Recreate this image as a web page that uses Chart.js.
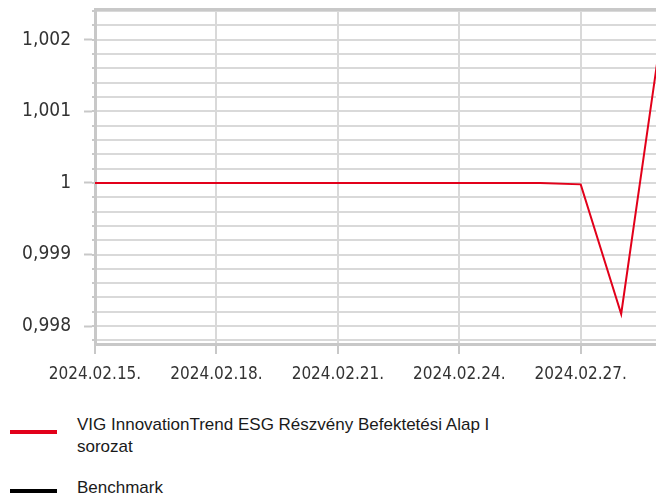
<!DOCTYPE html>
<html>
<head>
<meta charset="utf-8">
<script src="https://cdn.jsdelivr.net/npm/chart.js@4"></script>
<style>
  html, body { margin: 0; padding: 0; background: #fff; width: 656px; height: 497px; overflow: hidden; }
  #wrap { position: relative; width: 656px; height: 497px; }
  #chartBox { position: absolute; left: 0; top: 0; width: 656px; height: 400px; }
  .leg-line { position: absolute; left: 10px; width: 47px; height: 4px; }
  .leg-text { position: absolute; left: 77px; width: 440px; font: 17px "Liberation Sans", Arial, sans-serif; line-height: 22px; color: #1a1a1a; }
</style>
</head>
<body>
<div id="wrap">
  <div id="chartBox"><canvas id="navChart"></canvas></div>
  <div class="leg-line" style="top:430px;background:#e2001a"></div>
  <div class="leg-text" style="top:414px">VIG InnovationTrend ESG Részvény Befektetési Alap I sorozat</div>
  <div class="leg-line" style="top:489px;background:#000"></div>
  <div class="leg-text" style="top:477px">Benchmark</div>
</div>
<script>
// ── Data ───────────────────────────────────────────────
const dates = [
  '2024.02.15.', '2024.02.16.', '2024.02.17.', '2024.02.18.', '2024.02.19.',
  '2024.02.20.', '2024.02.21.', '2024.02.22.', '2024.02.23.', '2024.02.24.',
  '2024.02.25.', '2024.02.26.', '2024.02.27.', '2024.02.28.', '2024.02.29.'
];
const fundValues = [
  1, 1, 1, 1, 1,
  1, 1, 1, 1, 1,
  1, 1, 0.99998, 0.99817, 1.00212
];
const benchmarkValues = [];

const yMin = 0.99775, yMax = 1.00243;
const xMax = 13.86;   // the chart is cut off just before 02.29

const fmtHu = v => Number(v.toFixed(3)).toString().replace('.', ',');

const gridGrey = '#d9d9d9';
const axisGrey = '#c8c8c8';

// keep the plot area fixed: no automatic padding for edge labels
const noPad = s => { s.paddingTop = 0; s.paddingBottom = 0; s.paddingLeft = 0; s.paddingRight = 0; };

const ctx = document.getElementById('navChart').getContext('2d');
new Chart(ctx, {
  type: 'line',
  data: {
    datasets: [
      {
        label: 'VIG InnovationTrend ESG Részvény Befektetési Alap I sorozat',
        data: fundValues.map((v, i) => ({ x: i, y: v })),
        borderColor: '#e2001a',
        borderWidth: 2,
        pointRadius: 0,
        tension: 0,
        yAxisID: 'y'
      },
      {
        label: 'Benchmark',
        data: benchmarkValues.map((v, i) => ({ x: i, y: v })),
        borderColor: '#000',
        borderWidth: 2,
        pointRadius: 0,
        yAxisID: 'y'
      }
    ]
  },
  options: {
    responsive: true,
    maintainAspectRatio: false,
    animation: false,
    layout: { padding: { top: 9, left: 0, right: 0, bottom: 0 } },
    plugins: { legend: { display: false }, tooltip: { enabled: false } },
    scales: {
      x: {
        type: 'linear',
        min: 0,
        max: xMax,
        afterFit: s => { s.height = 56; noPad(s); },
        ticks: {
          stepSize: 3,
          includeBounds: false,
          padding: 10,
          color: '#333',
          font: { family: 'DejaVu Sans Condensed', size: 17 },
          maxRotation: 0,
          callback: v => dates[v] ?? ''
        },
        grid: { color: gridGrey, lineWidth: 2, tickLength: 10, tickColor: axisGrey, tickWidth: 2 },
        border: { color: axisGrey, width: 3 }
      },
      xTop: {
        type: 'linear',
        position: 'top',
        afterFit: s => { s.height = 0; noPad(s); },
        ticks: { display: false },
        grid: { display: false },
        border: { display: true, color: axisGrey, width: 3 }
      },
      // minor grid every 0.0002, short tick marks
      y: {
        type: 'linear',
        position: 'left',
        weight: 0,
        min: yMin,
        max: yMax,
        afterFit: s => { s.width = 3; noPad(s); },
        ticks: { display: false, stepSize: 0.0002, includeBounds: false },
        grid: { color: gridGrey, lineWidth: 2, tickLength: 3, tickColor: axisGrey, tickWidth: 2 },
        border: { color: axisGrey, width: 3 }
      },
      // major labels every 0.001
      yMajor: {
        type: 'linear',
        position: 'left',
        weight: 1,
        min: yMin,
        max: yMax,
        afterFit: s => { s.width = 92; noPad(s); },
        ticks: {
          stepSize: 0.001,
          includeBounds: false,
          padding: 13,
          color: '#333',
          font: { family: 'DejaVu Sans Condensed', size: 19 },
          callback: v => fmtHu(v)
        },
        grid: { drawOnChartArea: false, tickLength: 8, tickColor: axisGrey, tickWidth: 2 },
        border: { display: false }
      }
    }
  }
});
</script>
</body>
</html>
